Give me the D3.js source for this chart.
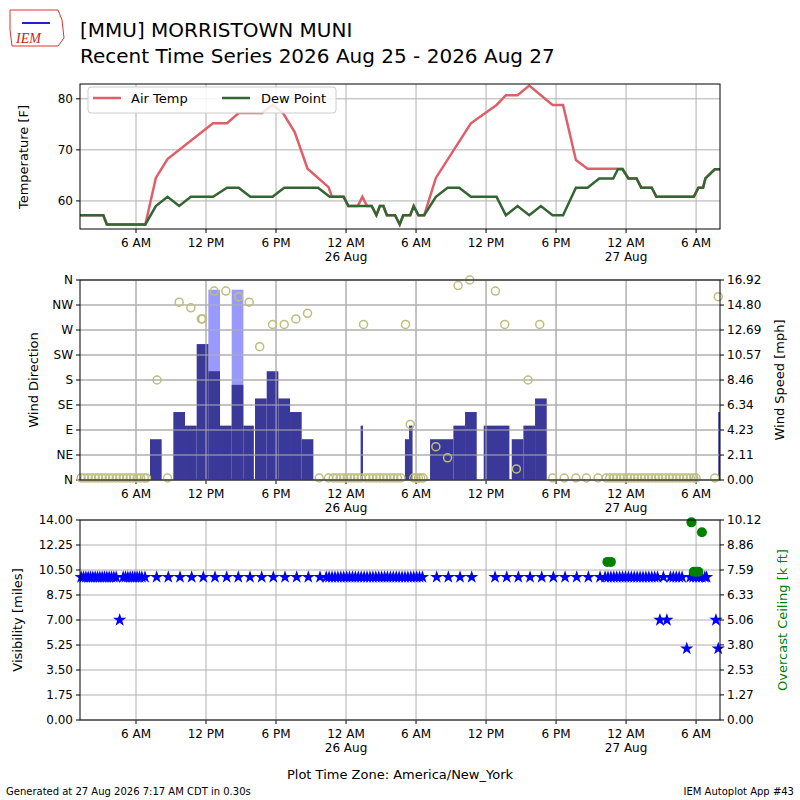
<!DOCTYPE html>
<html><head><meta charset="utf-8">
<script src="https://cdn.jsdelivr.net/npm/d3@7"></script>
<style>body{margin:0;background:#fff}svg{font-family:"DejaVu Sans",sans-serif}</style>
</head><body>
<script>
// hours since 2026-08-25 00:00 America/New_York
const tempSeries = [[1.2,57.2],[3.2,57.2],[3.5,55.4],[6.8,55.4],[7.7,64.5],[8.7,68.2],[12.6,75.2],[13.8,75.2],[14.8,77.2],[16.8,77.2],[17.7,78.8],[18.6,77.2],[19.6,73.5],[20.7,66.3],[22.5,62.7],[22.8,60.8],[23.8,60.8],[24.2,59],[25.0,59],[25.4,60.8],[25.8,59],[26.2,59],[26.6,57.2],[26.9,59],[27.2,59],[27.5,57.2],[28.2,57.2],[28.6,55.4],[28.9,57.2],[29.5,57.2],[29.8,59],[30.2,57.2],[30.7,57.2],[31.7,64.5],[34.7,75.2],[36.9,78.8],[37.7,80.7],[38.7,80.7],[39.7,82.6],[41.7,78.8],[42.6,78.8],[43.7,68],[44.7,66.3],[47.7,66.3],[48.2,64.4],[48.9,64.4],[49.3,62.6],[50.2,62.6],[50.6,60.8],[53.8,60.8],[54.2,62.6],[54.6,62.6],[54.8,64.4],[55.6,66.2],[56.05,66.2]];
const dewSeries = [[1.2,57.2],[3.2,57.2],[3.5,55.4],[6.8,55.4],[7.7,59],[8.7,60.8],[9.7,59],[10.7,60.8],[12.6,60.8],[13.8,62.6],[14.8,62.6],[15.8,60.8],[17.7,60.8],[18.7,62.6],[21.6,62.6],[22.6,60.8],[23.8,60.8],[24.2,59],[26.2,59],[26.6,57.2],[26.9,59],[27.2,59],[27.5,57.2],[28.2,57.2],[28.6,55.4],[28.9,57.2],[29.5,57.2],[29.8,59],[30.2,57.2],[30.7,57.2],[31.7,60.8],[32.7,62.6],[33.7,62.6],[34.7,60.8],[36.9,60.8],[37.7,57.2],[38.7,59],[39.7,57.2],[40.7,59],[41.7,57.2],[42.6,57.2],[43.7,62.6],[44.7,62.6],[45.7,64.4],[46.9,64.4],[47.3,66.2],[47.7,66.2],[48.2,64.4],[48.9,64.4],[49.3,62.6],[50.2,62.6],[50.6,60.8],[53.8,60.8],[54.2,62.6],[54.6,62.6],[54.8,64.4],[55.6,66.2],[56.05,66.2]];
// wind bars: [start hour, end hour, speed mph, gust mph]
const windBars = [[7.2,8.2,3.45,0],[9.2,10.2,5.75,0],[10.2,11.2,4.6,0],[11.2,12.2,11.5,0],[12.2,13.2,9.2,16.1],[13.2,14.2,4.6,0],[14.2,15.2,8.05,16.1],[15.2,16.1,4.6,0],[16.2,17.2,6.9,0],[17.2,18.2,9.2,0],[18.2,19.2,6.9,0],[19.2,20.2,5.75,0],[20.2,21.2,3.45,0],[25.25,25.45,4.6,0],[29.05,29.4,3.45,0],[29.4,29.7,4.6,0],[31.2,33.2,3.45,0],[33.2,34.2,4.6,0],[34.2,35.2,5.75,0],[35.8,38.0,4.6,0],[38.2,39.2,3.45,0],[39.2,40.2,4.6,0],[40.2,41.2,6.9,0],[55.9,56.05,5.75,0]];
// wind direction obs: [hour, degrees]
const windDir = [[7.8,180],[9.7,320],[10.7,310],[11.6,290],[11.7,290],[12.7,340],[13.7,340],[14.8,330],[15.7,320],[16.6,240],[17.7,280],[18.7,280],[19.7,290],[20.7,300],[25.5,280],[29.1,280],[29.5,100],[31.7,60],[32.7,40],[33.6,350],[34.6,360],[36.8,340],[37.6,280],[38.6,20],[39.6,180],[40.6,280],[55.9,330]];
const calmHours = [1.3,1.6,1.9,2.2,2.5,2.8,3.1,3.4,3.7,4.0,4.3,4.6,4.9,5.2,5.5,5.8,6.1,6.4,6.7,6.9,8.7,21.7,22.5,22.9,23.2,23.5,23.8,24.1,24.4,24.7,25.0,25.3,25.7,26.0,26.3,26.6,26.9,27.2,27.5,27.8,28.1,28.4,28.7,29.8,30.0,30.2,30.4,30.6,41.7,42.7,43.7,44.6,45.6,46.3,46.6,46.9,47.2,47.5,47.8,48.1,48.4,48.7,49.0,49.3,49.6,49.9,50.2,50.5,50.8,51.1,51.4,51.7,52.0,52.3,52.6,52.9,53.2,53.5,53.8,54.0,55.6];
// visibility obs: [hour, miles]
const visHours10 = [1.3,1.5,1.7,1.9,2.1,2.3,2.5,2.7,2.9,3.1,3.3,3.5,3.7,3.9,4.1,4.3,4.9,5.1,5.3,5.5,5.7,5.9,6.1,6.3,6.5,6.77,7.77,8.77,9.77,10.77,11.77,12.77,13.77,14.77,15.77,16.77,17.77,18.77,19.77,20.77,21.77,22.3,22.55,22.8,23.05,23.3,23.55,23.8,24.05,24.3,24.55,24.8,25.05,25.3,25.55,25.8,26.05,26.3,26.55,26.8,27.05,27.3,27.55,27.8,28.05,28.3,28.55,28.8,29.05,29.3,29.55,29.8,30.05,30.3,30.55,31.77,32.77,33.77,34.77,36.77,37.77,38.77,39.77,40.77,41.77,42.77,43.77,44.77,45.77,46.2,46.45,46.7,46.95,47.2,47.45,47.7,47.95,48.2,48.45,48.7,48.95,49.2,49.45,49.7,49.95,50.2,50.45,50.7,51.2,51.8,52.05,52.3,52.55,52.8,53.5,53.75,54.0,54.25,54.5,54.75,54.9];
const visOther = [[4.6,7],[50.9,7],[51.5,7],[53.2,5],[55.7,7],[55.9,5]];
// overcast ceiling obs: [hour, k ft]
const ceiling = [[46.4,8.0],[46.7,8.0],[53.6,10.0],[54.5,9.5],[53.8,7.5],[54.0,7.5],[54.2,7.5]];
const timeTicks = [6,12,18,24,30,36,42,48,54];
const tempTicks = [60,70,80];
const dirTicks = ["N","NE","E","SE","S","SW","W","NW","N"];
const speedTicks = ["0.00","2.11","4.23","6.34","8.46","10.57","12.69","14.80","16.92"];
const visTicks = ["0.00","1.75","3.50","5.25","7.00","8.75","10.50","12.25","14.00"];
const ceilTicks = ["0.00","1.27","2.53","3.80","5.06","6.33","7.59","8.86","10.12"];

const W=800,H=800,L=80,R=720;
const svg=d3.select("body").append("svg").attr("width",W).attr("height",H);
const x=d3.scaleLinear().domain([1.2,56.05]).range([L,R]);
function tlabel(h){const hr=h%24;const lab=hr===0?"12 AM":hr===6?"6 AM":hr===12?"12 PM":"6 PM";return lab;}
function xAxis(top,bot){
  const g=svg.append("g");
  timeTicks.forEach(h=>{
    g.append("line").attr("x1",x(h)).attr("x2",x(h)).attr("y1",top).attr("y2",bot).attr("stroke","#b0b0b0").attr("stroke-width",1);
    g.append("line").attr("x1",x(h)).attr("x2",x(h)).attr("y1",bot).attr("y2",bot+4).attr("stroke","#000");
    g.append("text").attr("x",x(h)).attr("y",bot+18).attr("text-anchor","middle").attr("font-size",12).text(tlabel(h));
    if(h%24===0){g.append("text").attr("x",x(h)).attr("y",bot+32).attr("text-anchor","middle").attr("font-size",12).text((25+h/24)+" Aug");}
  });
}
function frame(top,bot){svg.append("rect").attr("x",L).attr("y",top).attr("width",R-L).attr("height",bot-top).attr("fill","none").attr("stroke","#000").attr("stroke-width",1);}
function hgrid(y,vals,side,labels){
  vals.forEach((v,i)=>{
    const yy=y(v);
    if(side==="left"){
      svg.append("line").attr("x1",L).attr("x2",R).attr("y1",yy).attr("y2",yy).attr("stroke","#b0b0b0");
      svg.append("line").attr("x1",L-4).attr("x2",L).attr("y1",yy).attr("y2",yy).attr("stroke","#000");
      svg.append("text").attr("x",L-7).attr("y",yy+4).attr("text-anchor","end").attr("font-size",12).text(labels?labels[i]:v);
    } else {
      svg.append("line").attr("x1",R).attr("x2",R+4).attr("y1",yy).attr("y2",yy).attr("stroke","#000");
      svg.append("text").attr("x",R+7).attr("y",yy+4).attr("text-anchor","start").attr("font-size",12).text(labels[i]);
    }
  });
}
function ylabel(txt,xx,yc,color){svg.append("text").attr("transform",`translate(${xx},${yc}) rotate(-90)`).attr("text-anchor","middle").attr("font-size",13).attr("fill",color||"#000").text(txt);}

// Header
svg.append("text").attr("x",80).attr("y",37).attr("font-size",20).text("[MMU] MORRISTOWN MUNI");
svg.append("text").attr("x",80).attr("y",63).attr("font-size",20).text("Recent Time Series 2026 Aug 25 - 2026 Aug 27");
svg.append("path").attr("d","M10,10 L58,10 L62,20 L64,38 L58,46 L12,46 L10,30 Z").attr("fill","none").attr("stroke","#d33").attr("stroke-width",1);
svg.append("line").attr("x1",22).attr("x2",50).attr("y1",23).attr("y2",23).attr("stroke","#22c").attr("stroke-width",2);
svg.append("text").attr("x",16).attr("y",43).attr("font-size",14).attr("font-style","italic").attr("font-family","Liberation Serif").attr("fill","#c22").text("IEM");

// Panel 1
const t1=84,b1=229;
const yT=d3.scaleLinear().domain([54.5,82.9]).range([b1,t1]);
xAxis(t1,b1);hgrid(yT,tempTicks,"left");
const line=d3.line().x(d=>x(d[0])).y(d=>yT(d[1]));
svg.append("path").datum(tempSeries).attr("d",line).attr("fill","none").attr("stroke","#df5f68").attr("stroke-width",2.5);
svg.append("path").datum(dewSeries).attr("d",line).attr("fill","none").attr("stroke","#336633").attr("stroke-width",2.5);
frame(t1,b1);ylabel("Temperature [F]",28,157);
const lg=svg.append("g");
lg.append("rect").attr("x",88).attr("y",87).attr("width",248).attr("height",26).attr("rx",3).attr("fill","#fff").attr("fill-opacity",0.85).attr("stroke","#ccc");
lg.append("line").attr("x1",93).attr("x2",121).attr("y1",98).attr("y2",98).attr("stroke","#df5f68").attr("stroke-width",2.5);
lg.append("text").attr("x",131).attr("y",103).attr("font-size",13).text("Air Temp");
lg.append("line").attr("x1",222).attr("x2",250).attr("y1",98).attr("y2",98).attr("stroke","#336633").attr("stroke-width",2.5);
lg.append("text").attr("x",261).attr("y",103).attr("font-size",13).text("Dew Point");

// Panel 2
const t2=280,b2=480;
const yD=d3.scaleLinear().domain([0,360]).range([b2,t2]);
const yS=d3.scaleLinear().domain([0,16.92]).range([b2,t2]);
xAxis(t2,b2);
hgrid(yD,d3.range(0,361,45),"left",dirTicks);
const bg=svg.append("g");
windBars.filter(d=>d[3]>0).forEach(d=>bg.append("rect").attr("x",x(d[0])).attr("width",x(d[1])-x(d[0])).attr("y",yS(d[3])).attr("height",yS(0)-yS(d[3])).attr("fill","#9999ff"));
windBars.forEach(d=>bg.append("rect").attr("x",x(d[0])).attr("width",x(d[1])-x(d[0])).attr("y",yS(d[2])).attr("height",yS(0)-yS(d[2])).attr("fill","#3a3899"));
// redraw grid over bars
d3.range(0,361,45).forEach(v=>svg.append("line").attr("x1",L).attr("x2",R).attr("y1",yD(v)).attr("y2",yD(v)).attr("stroke","#b0b0b0"));
timeTicks.forEach(h=>svg.append("line").attr("x1",x(h)).attr("x2",x(h)).attr("y1",t2).attr("y2",b2).attr("stroke","#b0b0b0"));
const cg=svg.append("g");
calmHours.forEach(h=>cg.append("circle").attr("cx",x(h)).attr("cy",yD(0)-2).attr("r",4).attr("fill","none").attr("stroke","#bdbd7f").attr("stroke-width",1.5));
windDir.forEach(d=>cg.append("circle").attr("cx",x(d[0])).attr("cy",yD(d[1])).attr("r",4).attr("fill","none").attr("stroke","#bdbd7f").attr("stroke-width",1.5));
hgrid(yS,speedTicks.map(Number),"right",speedTicks);
frame(t2,b2);ylabel("Wind Direction",38,380);ylabel("Wind Speed [mph]",784,380);

// Panel 3
const t3=520,b3=720;
const yV=d3.scaleLinear().domain([0,14]).range([b3,t3]);
const yC=d3.scaleLinear().domain([0,10.12]).range([b3,t3]);
xAxis(t3,b3);hgrid(yV,visTicks.map(Number),"left",visTicks);
const star=d3.symbol().type(d3.symbolStar).size(55);
visHours10.forEach(h=>svg.append("path").attr("d",star).attr("transform",`translate(${x(h)},${yV(10)})`).attr("fill","#0000ff"));
visOther.forEach(d=>svg.append("path").attr("d",star).attr("transform",`translate(${x(d[0])},${yV(d[1])})`).attr("fill","#0000ff"));
ceiling.forEach(d=>svg.append("circle").attr("cx",x(d[0])).attr("cy",yC(d[1])).attr("r",5).attr("fill","#008000"));
hgrid(yC,ceilTicks.map(Number),"right",ceilTicks);
frame(t3,b3);ylabel("Visibility [miles]",22,620);ylabel("Overcast Ceiling [k ft]",787,620,"#008000");
svg.append("text").attr("x",400).attr("y",779).attr("text-anchor","middle").attr("font-size",13).text("Plot Time Zone: America/New_York");
svg.append("text").attr("x",6).attr("y",795).attr("font-size",10).text("Generated at 27 Aug 2026 7:17 AM CDT in 0.30s");
svg.append("text").attr("x",794).attr("y",795).attr("text-anchor","end").attr("font-size",10).text("IEM Autoplot App #43");
</script>
</body></html>
